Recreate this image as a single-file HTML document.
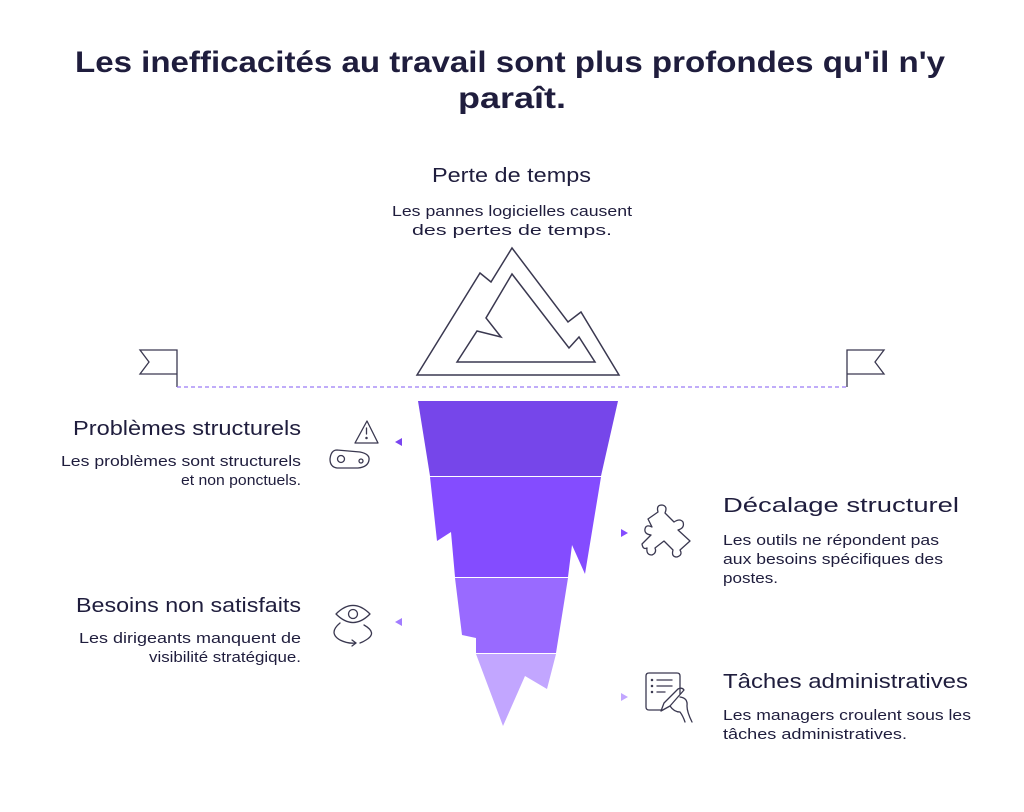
<!DOCTYPE html>
<html><head><meta charset="utf-8"><style>
html,body{margin:0;padding:0;background:#fff;width:1024px;height:812px;overflow:hidden}
svg{display:block}
text{font-family:"Liberation Sans",sans-serif;fill:#1f1d3d}
.t{font-weight:bold;font-size:30px}
.h{font-size:20px}
.s{font-size:14.5px}
</style></head><body>
<svg width="1024" height="812" viewBox="0 0 1024 812">
<text class="t" x="75" y="72" textLength="870" lengthAdjust="spacingAndGlyphs">Les inefficacités au travail sont plus profondes qu'il n'y</text>
<text class="t" x="458" y="108" textLength="108" lengthAdjust="spacingAndGlyphs">paraît.</text>

<text class="h" x="432" y="182" textLength="159" lengthAdjust="spacingAndGlyphs">Perte de temps</text>
<text class="s" x="512" y="216" text-anchor="middle" textLength="240" lengthAdjust="spacingAndGlyphs">Les pannes logicielles causent</text>
<text class="s" x="512" y="235" text-anchor="middle" textLength="200" lengthAdjust="spacingAndGlyphs">des pertes de temps.</text>

<!-- mountain -->
<g fill="none" stroke="#3a3850" stroke-width="1.5" stroke-linejoin="miter">
<polygon points="417,375 480,273 491,282 512,248 568,322 581,312 619,375"/>
<polygon points="457,362 477,331 501,337 486,318 512,274 569,348 579,337 595,362"/>
</g>

<!-- flags -->
<g fill="none" stroke="#3a3850" stroke-width="1.3">
<path d="M177,387 V350 H140 L149,362 L140,374 H177"/>
<path d="M847,387 V350 H884 L875,362 L884,374 H847"/>
</g>
<line x1="177" y1="387" x2="847" y2="387" stroke="#9b7bf5" stroke-width="1.3" stroke-dasharray="4,3"/>

<!-- iceberg -->
<polygon points="418,401 618,401 601,476 430,476" fill="#7646ea"/>
<polygon points="430,477 601,477 585,574 572,545 568,577 455,577 451,532 437,541" fill="#844cff"/>
<polygon points="455,578 568,578 556,653 476,653 476,638 462,635" fill="#996aff"/>
<polygon points="476,654 556,654 547,689 525,676 503,726" fill="#c2a6ff"/>

<!-- arrows -->
<polygon points="395,442 402,438 402,446" fill="#7a45f0"/>
<polygon points="395,622 402,618 402,626" fill="#a27cff"/>
<polygon points="628,533 621,529 621,537" fill="#844cff"/>
<polygon points="628,697 621,693 621,701" fill="#c2a6ff"/>

<!-- icons -->
<g fill="none" stroke="#3a3850" stroke-width="1.3" stroke-linecap="round" stroke-linejoin="round">
<!-- warning + pill -->
<path d="M367,421 L355,443 H378 Z"/>
<line x1="366.5" y1="428" x2="366.5" y2="434"/>
<circle cx="366.5" cy="438" r="0.6" fill="#3a3850"/>
<path d="M337,450 L360,452 Q370,454 369,460 Q368,467 358,468 L337,468 Q330,467 330,459 Q331,450 337,450 Z"/>
<circle cx="341" cy="459" r="3.5"/>
<circle cx="361" cy="461" r="2"/>
<!-- eye -->
<path d="M336,614 Q353,597 370,614 Q353,631 336,614 Z"/>
<circle cx="353" cy="614" r="4.5"/>
<path d="M340,623 Q328,633 340,640 Q348,644 356,643"/>
<path d="M352,640 L356,643 L352,646"/>
<path d="M364,625 Q378,633 366,640 Q363,642 360,643"/>
<!-- puzzle -->
<path d="M648,519 L658,512 Q656,505 662,505 Q668,506 665,513 L674,522 Q680,518 683,522 Q685,528 678,530 L690,541 L680,550 Q683,555 677,557 Q671,557 673,550 L664,541 L655,548 Q657,553 652,555 Q646,555 647,548 Q643,550 642,544 L651,535 Q644,534 645,529 Q646,524 652,527 Z"/>
<!-- document + hand -->
<path d="M662,710 H649 Q646,710 646,707 V676 Q646,673 649,673 H677 Q680,673 680,676 V694"/>
<circle cx="652" cy="680" r="0.6" fill="#3a3850"/><line x1="657" y1="680" x2="672" y2="680"/>
<circle cx="652" cy="686" r="0.6" fill="#3a3850"/><line x1="657" y1="686" x2="672" y2="686"/>
<circle cx="652" cy="692" r="0.6" fill="#3a3850"/><line x1="657" y1="692" x2="665" y2="692"/>
<path d="M661,711 L664,703 L678,689 Q682,687 684,690 L670,706 Z"/>
<path d="M680,697 Q688,698 687,706 Q687,712 692,722"/>
<path d="M670,706 Q674,712 680,712 Q683,716 685,722"/>
</g>

<!-- left texts -->
<text class="h" x="301" y="435" text-anchor="end" textLength="228" lengthAdjust="spacingAndGlyphs">Problèmes structurels</text>
<text class="s" x="301" y="466" text-anchor="end" textLength="240" lengthAdjust="spacingAndGlyphs">Les problèmes sont structurels</text>
<text class="s" x="301" y="485" text-anchor="end" textLength="120" lengthAdjust="spacingAndGlyphs">et non ponctuels.</text>

<text class="h" x="301" y="612" text-anchor="end" textLength="225" lengthAdjust="spacingAndGlyphs">Besoins non satisfaits</text>
<text class="s" x="301" y="643" text-anchor="end" textLength="222" lengthAdjust="spacingAndGlyphs">Les dirigeants manquent de</text>
<text class="s" x="301" y="662" text-anchor="end" textLength="152" lengthAdjust="spacingAndGlyphs">visibilité stratégique.</text>

<!-- right texts -->
<text class="h" x="723" y="512" textLength="236" lengthAdjust="spacingAndGlyphs">Décalage structurel</text>
<text class="s" x="723" y="545" textLength="216" lengthAdjust="spacingAndGlyphs">Les outils ne répondent pas</text>
<text class="s" x="723" y="564" textLength="220" lengthAdjust="spacingAndGlyphs">aux besoins spécifiques des</text>
<text class="s" x="723" y="583" textLength="55" lengthAdjust="spacingAndGlyphs">postes.</text>

<text class="h" x="723" y="688" textLength="245" lengthAdjust="spacingAndGlyphs">Tâches administratives</text>
<text class="s" x="723" y="720" textLength="248" lengthAdjust="spacingAndGlyphs">Les managers croulent sous les</text>
<text class="s" x="723" y="739" textLength="184" lengthAdjust="spacingAndGlyphs">tâches administratives.</text>
</svg>
</body></html>
